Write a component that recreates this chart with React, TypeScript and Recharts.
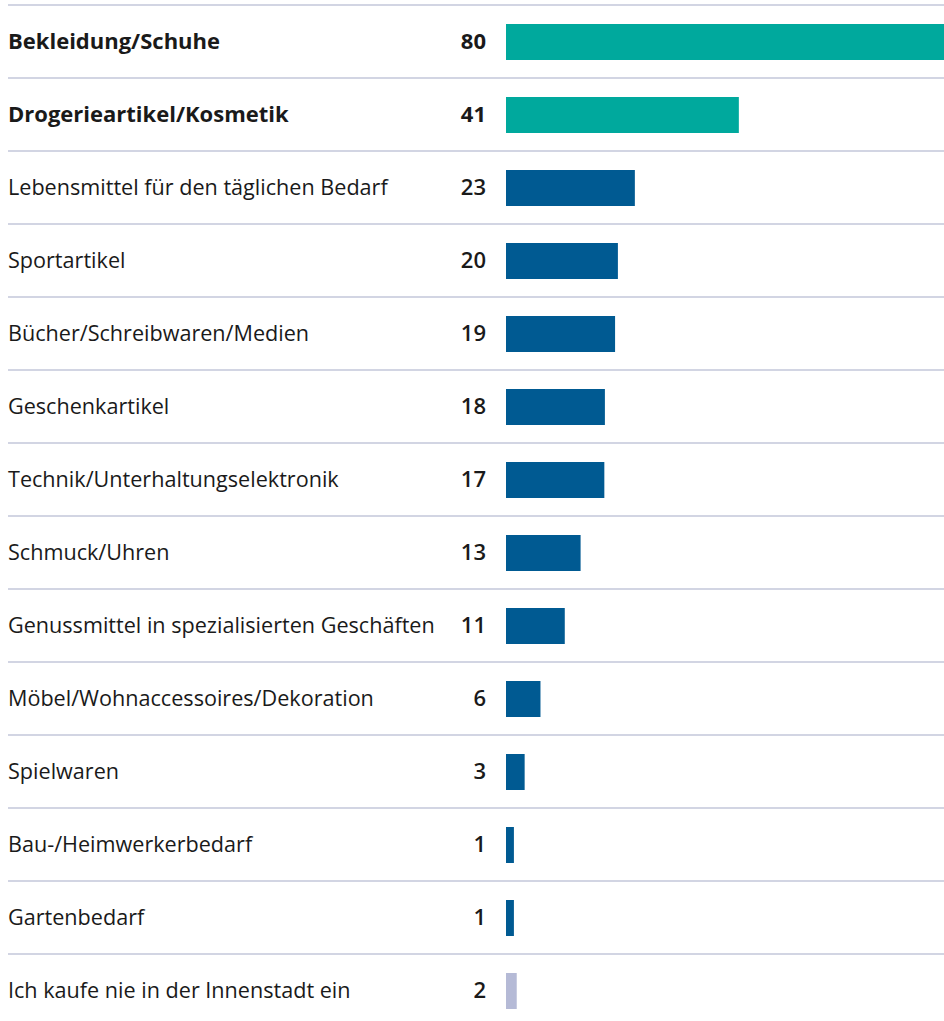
import React from 'react';
import { BarChart, Bar, XAxis, YAxis, Cell } from 'recharts';

const categories = [
  'Bekleidung/Schuhe',
  'Drogerieartikel/Kosmetik',
  'Lebensmittel für den täglichen Bedarf',
  'Sportartikel',
  'Bücher/Schreibwaren/Medien',
  'Geschenkartikel',
  'Technik/Unterhaltungselektronik',
  'Schmuck/Uhren',
  'Genussmittel in spezialisierten Geschäften',
  'Möbel/Wohnaccessoires/Dekoration',
  'Spielwaren',
  'Bau-/Heimwerkerbedarf',
  'Gartenbedarf',
  'Ich kaufe nie in der Innenstadt ein',
];

// unrounded shares (percent)
const shares = [80.2, 41.2, 22.8, 19.8, 19.3, 17.5, 17.4, 13.2, 10.4, 6.1, 3.3, 1.4, 1.4, 1.9];

// rounded figures printed next to the bars
const labels = ['80', '41', '23', '20', '19', '18', '17', '13', '11', '6', '3', '1', '1', '2'];

// top: highlighted, other: regular, none: "never"
const groups = ['top', 'top', 'other', 'other', 'other', 'other', 'other', 'other', 'other', 'other', 'other', 'other', 'other', 'none'];

const colors: Record<string, string> = {
  top: '#00a99d',
  other: '#005a92',
  none: '#b5bad6',
};

const font = '"Open Sans", sans-serif';
const BAND = 73;

const data = categories.map((name, i) => ({ name, share: shares[i], label: labels[i], group: groups[i] }));

function RowTick(props: any) {
  const { y, payload, index } = props;
  const bold = groups[index] === 'top';
  return (
    <g>
      <line x1={8} x2={944} y1={y - BAND / 2} y2={y - BAND / 2} stroke="#c3c7da" strokeWidth={1.5} />
      <text
        x={8}
        y={y}
        dy="0.36em"
        textAnchor="start"
        fontFamily={font}
        fontSize={bold ? 22 : 21.6}
        fontWeight={bold ? 700 : 400}
        fill="#1a1a1a"
      >
        {payload.value}
      </text>
      <text
        x={486}
        y={y}
        dy="0.36em"
        textAnchor="end"
        fontFamily={font}
        fontSize={22}
        fontWeight={bold ? 700 : 600}
        fill="#1a1a1a"
      >
        {labels[index]}
      </text>
    </g>
  );
}

export default function App() {
  return (
    <div style={{ position: 'absolute', left: 0, top: 0, width: 944, height: 1021, overflow: 'hidden', background: '#fff' }}>
      <BarChart
        width={944}
        height={1030}
        data={data}
        layout="vertical"
        margin={{ top: 5, right: 0, bottom: 3, left: 0 }}
        barSize={36}
      >
        <XAxis type="number" hide domain={[0, 77.5]} allowDataOverflow />
        <YAxis
          type="category"
          dataKey="name"
          width={506}
          interval={0}
          axisLine={false}
          tickLine={false}
          tick={<RowTick />}
        />
        <Bar dataKey="share" isAnimationActive={false}>
          {data.map((entry, index) => (
            <Cell key={`cell-${index}`} fill={colors[entry.group]} />
          ))}
        </Bar>
      </BarChart>
    </div>
  );
}
